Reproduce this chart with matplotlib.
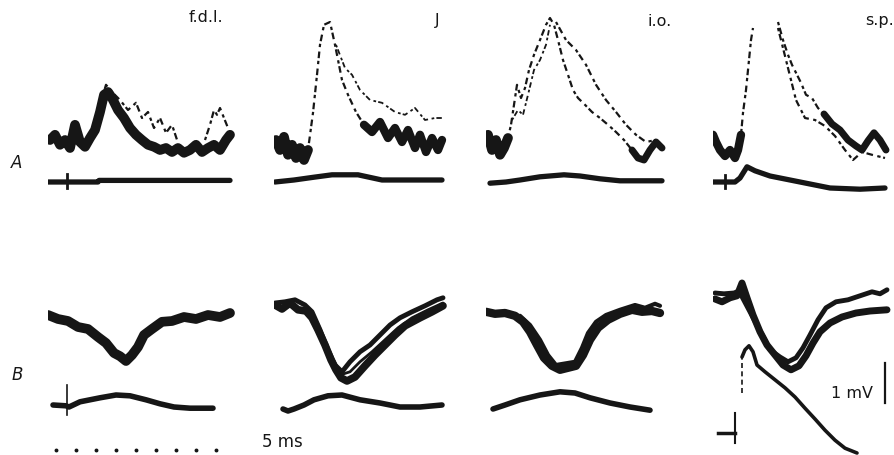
import numpy as np
import matplotlib.pyplot as plt

INK = '#161616'
W, H = 894, 455

# time in ms, amplitude in mV (20 px = 1 ms, 40 px = 1 mV)

# ---------- row A ----------
# f.d.l.
a1_t = [0.1, 0.35, 0.6, 0.85, 1.1, 1.35, 1.6, 1.85, 2.1, 2.35, 2.6, 2.8, 3.0, 3.2, 3.5, 3.8, 4.1,
        4.4, 4.7, 5.0, 5.3, 5.6, 5.9, 6.2, 6.5, 6.8, 7.1, 7.4, 7.7, 8.0, 8.3, 8.6, 8.9, 9.1]
a1_v = [1.05, 1.18, 0.93, 1.05, 0.85, 1.43, 1.0, 0.88, 1.1, 1.3, 1.75, 2.18, 2.25, 2.1, 1.8, 1.6, 1.35,
        1.18, 1.05, 0.93, 0.88, 0.8, 0.85, 0.75, 0.85, 0.73, 0.8, 0.93, 0.75, 0.85, 0.93, 0.8, 1.05, 1.18]
a1_up_t = [2.35, 2.6, 2.9, 3.2, 3.6, 4.0, 4.4, 4.7, 5.0, 5.3, 5.6, 5.9, 6.2, 6.5]
a1_up_v = [1.35, 1.93, 2.43, 2.25, 2.05, 1.8, 1.98, 1.6, 1.75, 1.35, 1.6, 1.23, 1.43, 0.98]
a1_end_t = [7.85, 8.1, 8.3, 8.45, 8.6, 8.8, 9.0]
a1_end_v = [1.05, 1.43, 1.8, 1.68, 1.85, 1.6, 1.35]
a1_base_t = [0.0, 2.5, 2.55, 9.1]
a1_base_v = [0.0, 0.0, 0.04, 0.04]
a1_stim_t = 0.95
a1_stim_v = (-0.15, 0.2)

# J
a2_t = [0.1, 0.3, 0.5, 0.7, 0.9, 1.1, 1.3, 1.5, 1.7, 1.95, 2.15, 2.3, 2.5, 2.8, 3.05, 3.4, 3.7,
        4.1, 4.5, 4.9, 5.3, 5.7, 6.05, 6.4, 6.7, 7.05, 7.3, 7.6, 7.9, 8.2, 8.4]
a2_v = [1.05, 0.8, 1.13, 0.68, 0.93, 0.6, 0.85, 0.55, 0.8, 1.73, 2.68, 3.43, 3.93, 4.0, 3.43, 2.55, 2.18,
        1.75, 1.43, 1.25, 1.5, 1.1, 1.35, 1.0, 1.3, 0.85, 1.18, 0.75, 1.1, 0.8, 1.05]
a2_up_t = [3.1, 3.55, 3.9, 4.3, 4.8, 5.4, 6.05, 6.55, 7.05, 7.55, 8.05, 8.4]
a2_up_v = [3.43, 2.85, 2.68, 2.3, 2.05, 1.98, 1.75, 1.68, 1.85, 1.55, 1.6, 1.6]
a2_base_t = [0.05, 1.0, 2.0, 2.9, 4.2, 5.4, 8.4]
a2_base_v = [0.0, 0.05, 0.12, 0.18, 0.18, 0.05, 0.05]

# i.o.
a3_t = [0.1, 0.3, 0.5, 0.7, 0.9, 1.1, 1.25, 1.4, 1.55, 1.75, 1.95, 2.15, 2.4, 2.7, 3.0, 3.2, 3.4,
        3.6, 3.85, 4.1, 4.35, 4.6, 4.95, 5.3, 5.7, 6.1, 6.5, 6.9, 7.3, 7.6, 7.9, 8.2, 8.5, 8.8]
a3_v = [1.18, 0.8, 1.05, 0.68, 0.85, 1.1, 1.43, 1.93, 2.43, 2.1, 2.35, 2.8, 3.18, 3.55, 3.93, 4.1, 3.93,
        3.55, 3.05, 2.68, 2.3, 2.1, 1.93, 1.75, 1.6, 1.43, 1.25, 1.05, 0.8, 0.6, 0.55, 0.8, 1.0, 0.85]
a3_rise_t = [1.3, 1.6, 1.85, 2.1, 2.4, 2.7, 3.0, 3.2]
a3_rise_v = [1.55, 1.8, 1.68, 2.18, 2.8, 3.05, 3.43, 3.93]
a3_up_t = [3.5, 4.0, 4.5, 5.0, 5.5, 6.0, 6.5, 7.0, 7.5, 8.0, 8.5, 8.8]
a3_up_v = [4.0, 3.55, 3.3, 2.93, 2.43, 2.05, 1.75, 1.43, 1.18, 1.0, 1.05, 0.93]
a3_base_t = [0.2, 1.0, 1.7, 2.7, 3.9, 4.7, 5.7, 6.7, 7.7, 8.8]
a3_base_v = [-0.03, 0.0, 0.05, 0.13, 0.18, 0.15, 0.08, 0.03, 0.03, 0.03]

# s.p. (spike top runs off the trace: gap)
a4_t = [0.0, 0.15, 0.35, 0.6, 0.85, 1.1, 1.25, 1.4, 1.5, 1.65, 1.8, 1.9, 2.0, 2.5, 3.25, 3.5,
        3.75, 3.95, 4.2, 4.4, 4.65, 4.95, 5.25, 5.55, 5.95, 6.35, 6.75, 7.15, 7.45, 7.75, 8.05, 8.35, 8.65]
a4_v = [1.18, 1.0, 0.8, 0.65, 0.8, 0.6, 0.8, 1.18, 1.73, 2.3, 3.05, 3.55, 3.85, np.nan, 4.0, 3.55,
        3.18, 2.93, 2.68, 2.48, 2.18, 2.1, 1.85, 1.7, 1.45, 1.3, 1.05, 0.9, 0.8, 1.03, 1.23, 1.05, 0.8]
a4_up_t = [3.25, 3.65, 3.9, 4.15, 4.6, 5.1, 5.6, 6.1, 6.6, 7.0, 7.45, 7.95, 8.6]
a4_up_v = [3.85, 3.05, 2.55, 2.05, 1.6, 1.55, 1.4, 1.15, 0.8, 0.55, 0.75, 0.68, 0.6]
a4_base_t = [0.0, 1.1, 1.35, 1.7, 2.1, 2.85, 3.85, 4.85, 5.85, 7.35, 8.6]
a4_base_v = [0.0, 0.0, 0.1, 0.38, 0.28, 0.15, 0.05, -0.05, -0.15, -0.18, -0.15]
a4_stim_t = 0.6
a4_stim_v = (-0.15, 0.17)

# ---------- row B ----------
b1_t = [0.0, 0.5, 1.0, 1.5, 2.0, 2.5, 2.9, 3.3, 3.6, 3.9, 4.2, 4.5, 4.8, 5.2, 5.7, 6.2, 6.8, 7.4, 8.0, 8.6, 9.1]
b1_v = [2.25, 2.15, 2.1, 1.95, 1.9, 1.7, 1.55, 1.3, 1.22, 1.1, 1.25, 1.45, 1.75, 1.9, 2.08, 2.1, 2.2, 2.15, 2.25, 2.2, 2.3]
b1_lo_t = [0.25, 0.9, 1.05, 1.6, 2.6, 3.4, 4.1, 4.9, 5.6, 6.3, 7.1, 8.25]
b1_lo_v = [0.0, -0.02, -0.05, 0.08, 0.18, 0.25, 0.23, 0.13, 0.03, -0.05, -0.08, -0.08]
b1_stim_t = 0.95
b1_stim_v = (-0.25, 0.5)

b2_t = [0.05, 0.4, 0.8, 1.2, 1.6, 1.9, 2.2, 2.55, 2.85, 3.1, 3.35, 3.65, 4.05, 4.55, 5.05, 5.55, 6.05, 6.55, 7.3, 7.9, 8.45]
b2_v = [2.5, 2.4, 2.55, 2.38, 2.35, 2.18, 1.88, 1.5, 1.13, 0.88, 0.68, 0.6, 0.7, 0.98, 1.25, 1.5, 1.75, 1.98, 2.18, 2.33, 2.48]
b2_up_t = [0.05, 0.55, 1.05, 1.55, 1.9, 2.3, 2.7, 3.05, 3.4, 3.8, 4.3, 4.8, 5.3, 5.8, 6.3, 6.9, 7.55, 8.15, 8.45]
b2_up_v = [2.55, 2.58, 2.63, 2.5, 2.33, 1.88, 1.38, 1.0, 0.83, 1.08, 1.33, 1.5, 1.75, 2.0, 2.18, 2.33, 2.48, 2.63, 2.68]
b2_mid_t = [2.8, 3.3, 3.8, 4.3, 4.9, 5.55, 6.2, 6.9, 7.7, 8.45]
b2_mid_v = [1.25, 0.75, 0.83, 1.08, 1.33, 1.63, 1.93, 2.18, 2.38, 2.55]
b2_lo_t = [0.45, 0.7, 1.0, 1.5, 2.0, 2.7, 3.4, 4.3, 5.3, 6.3, 7.3, 8.4]
b2_lo_v = [-0.1, -0.15, -0.1, 0.0, 0.13, 0.23, 0.25, 0.13, 0.05, -0.05, -0.05, 0.0]

b3_t = [0.0, 0.45, 0.95, 1.45, 1.85, 2.2, 2.55, 2.9, 3.3, 3.7, 4.1, 4.5, 4.85, 5.2, 5.6, 6.1, 6.7, 7.3, 7.8, 8.3, 8.7]
b3_v = [2.33, 2.28, 2.3, 2.23, 2.08, 1.83, 1.5, 1.18, 0.98, 0.88, 0.93, 0.98, 1.25, 1.63, 1.93, 2.13, 2.28, 2.38, 2.33, 2.35, 2.3]
b3_up_t = [1.7, 2.2, 2.7, 3.1, 3.5, 4.45, 4.8, 5.1, 5.5, 6.0, 6.7, 7.45, 7.95, 8.45, 8.7]
b3_up_v = [2.23, 2.0, 1.63, 1.25, 1.0, 1.08, 1.43, 1.8, 2.08, 2.25, 2.38, 2.5, 2.43, 2.53, 2.48]
b3_lo_t = [0.35, 0.95, 1.7, 2.7, 3.7, 4.45, 5.2, 6.2, 7.2, 8.2]
b3_lo_v = [-0.1, 0.0, 0.13, 0.25, 0.33, 0.3, 0.18, 0.05, -0.05, -0.13]

b4_t = [0.1, 0.45, 0.85, 1.2, 1.45, 1.7, 2.0, 2.35, 2.7, 3.1, 3.5, 3.9, 4.3, 4.65, 5.0, 5.35, 5.85, 6.45, 7.15, 7.85, 8.7]
b4_v = [2.65, 2.58, 2.68, 2.73, 3.05, 2.68, 2.25, 1.83, 1.5, 1.25, 1.0, 0.88, 0.98, 1.23, 1.55, 1.83, 2.05, 2.2, 2.3, 2.35, 2.38]
b4_up_t = [0.1, 0.55, 1.05, 1.3, 2.85, 3.35, 3.75, 4.15, 4.5, 4.85, 5.25, 5.65, 6.15, 6.75, 7.35, 7.95, 8.35, 8.7]
b4_up_v = [2.8, 2.78, 2.8, 2.85, 1.38, 1.2, 1.08, 1.18, 1.43, 1.75, 2.13, 2.43, 2.58, 2.63, 2.73, 2.83, 2.78, 2.88]
b4_lo_t = [1.45, 1.6, 1.8, 2.0, 2.2, 2.6, 3.1, 3.6, 4.1, 4.6, 5.1, 5.6, 6.1, 6.6, 7.2]
b4_lo_v = [1.2, 1.38, 1.48, 1.33, 1.0, 0.83, 0.63, 0.43, 0.2, -0.08, -0.35, -0.63, -0.88, -1.08, -1.2]
b4_rise_t = [1.45, 1.45]
b4_rise_v = [0.3, 1.2]
b4_stim_t = [0.25, 1.1]
b4_stim_v = -0.7
b4_stim_span = (-0.95, -0.2)

# 1 ms time marks and scale bars
time_marks = [0.4, 1.4, 2.4, 3.4, 4.4, 5.4, 6.4, 7.4, 8.4]
bar_mv = 1.0

# ---------- layout ----------
col_x = [48, 274, 486, 713]          # left edge of each column, px
row_a = (0, 200, -0.45, 4.55)        # top px, bottom px, v at bottom, v at top
row_b = (270, 455, -1.25, 3.375)
col_w = 190                          # px -> 9.5 ms

fig = plt.figure(figsize=(W / 100, H / 100), dpi=100)
fig.patch.set_facecolor('white')


def make_ax(x0, row):
    top, bot, vlo, vhi = row
    ax = fig.add_axes([x0 / W, 1 - bot / H, col_w / W, (bot - top) / H])
    ax.set_xlim(0, col_w / 20)
    ax.set_ylim(vlo, vhi)
    ax.axis('off')
    return ax


def part(t, v, lo, hi):
    t = np.asarray(t, float)
    v = np.asarray(v, float).copy()
    v[(t < lo) | (t > hi)] = np.nan
    return t, v


def band(ax, t, v, lw=6.0):
    ax.plot(t, v, color=INK, lw=lw, solid_joinstyle='round', solid_capstyle='round')


def faint(ax, t, v, lw=1.3):
    ax.plot(t, v, color=INK, lw=lw, ls=(0, (1.5, 1.2, 3, 2)))


def tick(ax, t, span, lw=1.4):
    ax.plot([t, t], span, color=INK, lw=lw)


axA = [make_ax(x, row_a) for x in col_x]
axB = [make_ax(x, row_b) for x in col_x]

# A f.d.l.
ax = axA[0]
band(ax, a1_t, a1_v, 7)
faint(ax, a1_up_t, a1_up_v, 1.6)
faint(ax, a1_end_t, a1_end_v, 1.6)
band(ax, a1_base_t, a1_base_v, 3.8)
tick(ax, a1_stim_t, a1_stim_v, 2)

# A J
ax = axA[1]
faint(ax, a2_t, a2_v, 1.6)
band(ax, *part(a2_t, a2_v, 0, 1.75), 7)
band(ax, *part(a2_t, a2_v, 4.5, 9), 6)
faint(ax, a2_up_t, a2_up_v)
band(ax, a2_base_t, a2_base_v, 3.8)

# A i.o.
ax = axA[2]
faint(ax, a3_t, a3_v, 1.6)
band(ax, *part(a3_t, a3_v, 0, 1.1), 7)
band(ax, *part(a3_t, a3_v, 7.3, 9), 5)
faint(ax, a3_rise_t, a3_rise_v)
faint(ax, a3_up_t, a3_up_v, 1.6)
band(ax, a3_base_t, a3_base_v, 3.8)

# A s.p.
ax = axA[3]
faint(ax, a4_t, a4_v, 1.6)
band(ax, *part(a4_t, a4_v, 0, 1.4), 6)
band(ax, *part(a4_t, a4_v, 5.5, 9), 5)
faint(ax, a4_up_t, a4_up_v, 1.6)
band(ax, a4_base_t, a4_base_v, 3.8)
tick(ax, a4_stim_t, a4_stim_v, 2)

# B f.d.l.
ax = axB[0]
band(ax, b1_t, b1_v, 7)
band(ax, b1_lo_t, b1_lo_v, 4)
tick(ax, b1_stim_t, b1_stim_v, 1.2)
ax.plot(time_marks, [-1.13] * len(time_marks), 'o', color=INK, ms=1.8)

# B J
ax = axB[1]
band(ax, b2_t, b2_v, 5.5)
band(ax, b2_up_t, b2_up_v, 3.5)
band(ax, b2_mid_t, b2_mid_v, 2.0)
band(ax, b2_lo_t, b2_lo_v, 4)

# B i.o.
ax = axB[2]
band(ax, b3_t, b3_v, 6)
band(ax, b3_up_t, b3_up_v, 3)
band(ax, b3_lo_t, b3_lo_v, 4)

# B s.p.
ax = axB[3]
band(ax, b4_t, b4_v, 5)
band(ax, b4_up_t, b4_up_v, 3.5)
band(ax, b4_lo_t, b4_lo_v, 2.6)
ax.plot(b4_rise_t, b4_rise_v, color=INK, lw=1.2, ls=(0, (3, 2)))
ax.plot(b4_stim_t, [b4_stim_v] * 2, color=INK, lw=2.5)
tick(ax, b4_stim_t[1], b4_stim_span, 1.5)
tick(ax, 8.6, (0.05, 0.05 + bar_mv), 1.6)
ax.text(8.0, 0.3, '1 mV', color=INK, fontsize=11.5, ha='right', va='center')


def fx(x, y):
    return x / W, 1 - y / H


lab = dict(fontsize=11.5, color=INK, ha='right', va='center')
fig.text(*fx(223, 17), 'f.d.l.', **lab)
fig.text(*fx(440, 20), 'J', **lab)
fig.text(*fx(672, 22), 'i.o.', **lab)
fig.text(*fx(894, 20), 's.p.', **lab)
fig.text(*fx(17, 163), 'A', fontsize=12, color=INK, style='italic', ha='center', va='center')
fig.text(*fx(17, 375), 'B', fontsize=12, color=INK, style='italic', ha='center', va='center')
fig.text(*fx(262, 442), '5 ms', fontsize=12, color=INK, ha='left', va='center')

fig.savefig('out.png', dpi=100, facecolor='white')
